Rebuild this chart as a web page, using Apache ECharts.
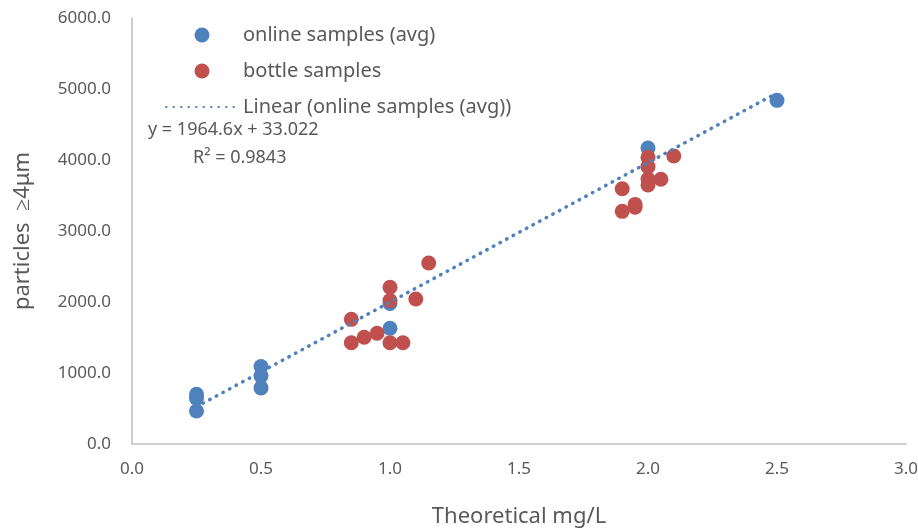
<!DOCTYPE html>
<html>
<head>
<meta charset="utf-8">
<script src="https://cdn.jsdelivr.net/npm/echarts@6/dist/echarts.min.js"></script>
<style>html,body{margin:0;padding:0;background:#fff}#c{width:918px;height:528px}</style>
</head>
<body>
<div id="c"></div>
<script>
// ---- data ----
var onlineX = [0.25, 0.25, 0.25, 0.5, 0.5, 0.5, 1.0, 1.0, 2.0, 2.5];
var onlineY = [700, 640, 465, 1090, 960, 790, 1980, 1630, 4170, 4840];
var bottleX = [1.0, 1.0, 1.1, 0.85, 0.85, 0.9, 0.95, 1.0, 1.05, 1.15,
               2.0, 2.1, 2.0, 2.0, 2.05, 2.0, 1.9, 1.95, 1.95, 1.9];
var bottleY = [2207, 2020, 2042, 1756, 1427, 1503, 1559, 1427, 1427, 2549,
               4038, 4056, 3906, 3732, 3728, 3648, 3596, 3375, 3335, 3277];
var trendSlope = 1964.6;
var trendIntercept = 33.022;
var xTicks = [0, 0.5, 1.0, 1.5, 2.0, 2.5, 3.0];
var yTicks = [0, 1000, 2000, 3000, 4000, 5000, 6000];
var seriesNames = ['online samples (avg)', 'bottle samples', 'Linear (online samples (avg))'];

function pairs(xs, ys) { return xs.map(function (x, i) { return [x, ys[i]]; }); }
var tx0 = Math.min.apply(null, onlineX), tx1 = Math.max.apply(null, onlineX);
var trendData = [[tx0, trendSlope * tx0 + trendIntercept], [tx1, trendSlope * tx1 + trendIntercept]];

var FONT = 'Noto Sans';
var txt = '#595959';
var chart = echarts.init(document.getElementById('c'));
chart.setOption({
  animation: false,
  textStyle: { fontFamily: FONT },
  grid: { left: 132, right: 12, top: 18, bottom: 84, containLabel: false, outerBoundsMode: 'none' },
  legend: {
    orient: 'vertical', left: 160, top: 20, padding: 5,
    itemWidth: 72, itemHeight: 15, itemGap: 16,
    textStyle: { fontSize: 20, color: txt, fontFamily: FONT, lineHeight: 20 },
    data: [
      { name: seriesNames[0], icon: 'circle' },
      { name: seriesNames[1], icon: 'circle' },
      { name: seriesNames[2], itemStyle: { opacity: 0 } }
    ]
  },
  xAxis: {
    type: 'value', min: 0, max: 3, interval: 0.5,
    name: 'Theoretical mg/L', nameLocation: 'middle', nameGap: 62,
    nameTextStyle: { fontSize: 22, color: txt, fontFamily: FONT },
    axisLine: { show: true, lineStyle: { color: '#BFBFBF', width: 1.5 } },
    axisTick: { show: false }, splitLine: { show: false },
    axisLabel: { fontSize: 17, color: txt, margin: 17, formatter: function (v) { return v.toFixed(1); } }
  },
  yAxis: {
    type: 'value', min: 0, max: 6000, interval: 1000,
    name: 'particles  \u22654\u03bcm', nameLocation: 'middle', nameGap: 98,
    nameTextStyle: { fontSize: 22, color: txt, fontFamily: FONT },
    axisLine: { show: true, lineStyle: { color: '#BFBFBF', width: 1.5 } },
    axisTick: { show: false }, splitLine: { show: false },
    axisLabel: { fontSize: 17, color: txt, margin: 21, formatter: function (v) { return v.toFixed(1); } }
  },
  graphic: [
    { type: 'text', left: 148, top: 121, style: { text: 'y = 1964.6x + 33.022', fontSize: 18, fill: txt, fontFamily: FONT } },
    { type: 'text', left: 193, top: 149, style: { text: 'R\u00b2 = 0.9843', fontSize: 18, fill: txt, fontFamily: FONT } }
  ],
  series: [
    { name: seriesNames[0], type: 'scatter', data: pairs(onlineX, onlineY), symbolSize: 15,
      itemStyle: { color: '#4F81BD', opacity: 1 }, z: 2 },
    { name: seriesNames[1], type: 'scatter', data: pairs(bottleX, bottleY), symbolSize: 15,
      itemStyle: { color: '#C0504D', opacity: 1 }, z: 3 },
    { name: seriesNames[2], type: 'line', data: trendData, symbol: 'none', z: 4,
      itemStyle: { color: '#4F81BD' },
      lineStyle: { color: '#4F81BD', width: 3.5, type: [0.5, 7], cap: 'round' } }
  ]
});
</script>
</body>
</html>
